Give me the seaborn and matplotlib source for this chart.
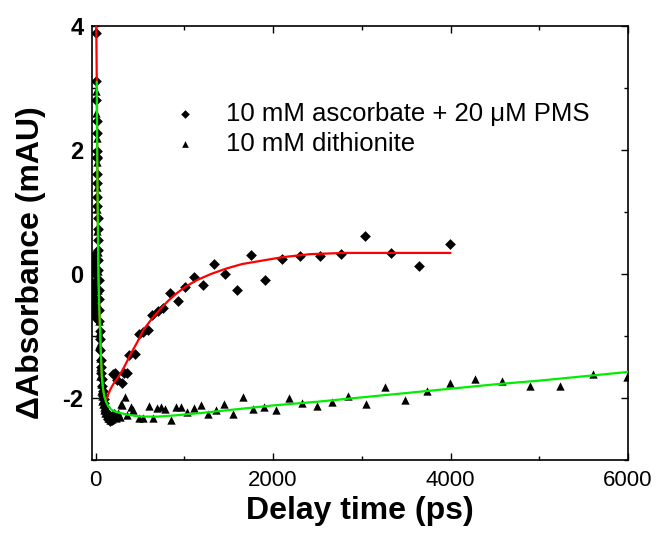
import numpy as np
import pandas as pd
import matplotlib
matplotlib.use("Agg")
import matplotlib.pyplot as plt
from matplotlib.ticker import MultipleLocator
import seaborn as sns

# ---------------- data ----------------
asc_t_pre = [-38, -34, -30, -26, -22, -18, -14, -10, -6, -2]
asc_y_pre = [0.2, -0.3, 0.1, -0.5, 0.3, -0.2, -0.6, 0.0, -0.4, -0.7]
asc_t_early = [5, 8, 10, 12, 13, 14, 15, 16, 17, 18, 19, 20, 22, 24, 26, 28, 30, 32, 34, 36,
               38, 41, 44, 47, 50, 54, 58, 62, 66, 70, 75, 80, 86, 92, 100, 108, 116, 125, 135, 145,
               155, 165, 175, 190, 205]
asc_y_early = [3.89, 3.11, 2.81, 2.47, 2.28, 1.98, 1.89, 1.87, 1.62, 1.46, 1.25, 1.09, 0.91, 0.72, 0.55, 0.38, 0.22, 0.06, -0.10, -0.25,
               -0.40, -0.58, -0.75, -0.92, -1.05, -1.22, -1.38, -1.50, -1.60, -1.70, -1.80, -1.88, -1.96, -2.02, -2.08, -2.15, -2.22, -2.26, -2.30, -2.34,
               -2.28, -2.37, -2.31, -2.35, -2.25]
asc_t_late = [202, 221, 240, 303, 315, 352, 375, 440, 484, 540, 589, 641, 701, 765, 844, 926, 1013, 1110, 1215, 1332,
              1459, 1595, 1755, 1915, 2105, 2304, 2526, 2769, 3036, 3329, 3648, 3997]
asc_y_late = [-1.62, -1.60, -1.71, -1.76, -1.60, -1.59, -1.31, -1.29, -0.97, -0.93, -0.91, -0.66, -0.60, -0.55, -0.31, -0.43, -0.21, -0.05, -0.18, 0.16,
              0.00, -0.26, 0.30, -0.09, 0.25, 0.29, 0.29, 0.33, 0.61, 0.34, 0.13, 0.49]

dit_t_pre = [-38, -34, -30, -26, -22, -18, -14, -10, -6, -2]
dit_y_pre = [-0.1, 0.2, -0.4, 0.1, -0.3, 0.3, -0.5, -0.1, 0.2, -0.6]
dit_t_early = [8, 10, 12, 14, 16, 18, 20, 23, 26, 29, 32, 35, 38, 42, 46, 50, 55, 60, 65, 70,
               76, 82, 90, 98, 106, 115, 125, 135, 145, 160, 175, 190, 210, 230, 250, 270]
dit_y_early = [2.95, 2.60, 2.20, 1.80, 1.40, 1.05, 0.70, 0.35, 0.05, -0.25, -0.50, -0.75, -0.95, -1.15, -1.35, -1.50, -1.65, -1.78, -1.88, -1.97,
               -2.05, -2.10, -2.15, -2.20, -2.24, -2.18, -2.28, -2.33, -2.25, -2.36, -2.30, -2.34, -2.27, -2.32, -2.24, -2.30]
dit_t_late = [288, 296, 333, 352, 405, 427, 484, 540, 607, 652, 690, 735, 784, 851, 908, 964, 1035, 1110, 1186, 1272,
              1358, 1450, 1553, 1660, 1771, 1900, 2034, 2177, 2325, 2492, 2661, 2848, 3047, 3261, 3486, 3731, 3997, 4275, 4575, 4894,
              5232, 5600, 5994]
dit_y_late = [-2.10, -2.11, -1.99, -2.27, -2.14, -2.19, -2.33, -2.33, -2.13, -2.33, -2.16, -2.15, -2.18, -2.35, -2.14, -2.14, -2.23, -2.16, -2.11, -2.26,
              -2.19, -2.09, -2.26, -1.99, -2.18, -2.15, -2.19, -2.00, -2.08, -2.13, -2.06, -1.97, -2.09, -1.83, -2.03, -1.88, -1.75, -1.69, -1.72, -1.80,
              -1.81, -1.62, -1.66]

fit_red_t = [8, 10, 12, 14, 16, 18, 20, 24, 28, 33, 40, 46, 52, 60, 71, 85, 100, 112, 119, 140,
             164, 190, 220, 277, 330, 400, 470, 540, 630, 727, 820, 915, 1020, 1140, 1300, 1478, 1650, 1853, 2100, 2417,
             2800, 3200, 3600, 4000]
fit_red_y = [4.0, 3.7, 3.4, 3.1, 2.6, 2.1, 1.7, 1.1, 0.5, -0.04, -0.45, -0.72, -0.95, -1.28, -1.66, -1.86, -1.97, -2.02, -2.03, -1.95,
             -1.87, -1.80, -1.73, -1.62, -1.48, -1.28, -1.10, -0.90, -0.73, -0.57, -0.43, -0.31, -0.20, -0.10, 0.00, 0.09, 0.16, 0.21, 0.27, 0.32,
             0.34, 0.34, 0.34, 0.34]
fit_green_t = [14, 16, 18, 20, 24, 28, 33, 40, 46, 52, 60, 71, 85, 100, 120, 145, 180, 221, 300, 371,
               450, 559, 700, 900, 1200, 1600, 2000, 2500, 3000, 3500, 4000, 4500, 5000, 5500, 6000]
fit_green_y = [3.10, 2.6, 2.1, 1.7, 1.1, 0.5, -0.04, -0.45, -0.72, -0.95, -1.28, -1.66, -1.86, -1.98, -2.07, -2.14, -2.19, -2.22, -2.25, -2.27,
               -2.29, -2.30, -2.30, -2.28, -2.24, -2.18, -2.12, -2.06, -1.99, -1.92, -1.85, -1.78, -1.72, -1.65, -1.58]

labels = ["10 mM ascorbate + 20 \u03bcM PMS", "10 mM dithionite"]
xticks = [0, 2000, 4000, 6000]
yticks = [-2, 0, 2, 4]

# ---------------- figure ----------------
sns.set_style("ticks")
plt.rcParams["font.family"] = ["Liberation Sans", "DejaVu Sans"]
plt.rcParams["axes.unicode_minus"] = False
plt.rcParams["text.color"] = "black"
plt.rcParams["axes.labelcolor"] = "black"
plt.rcParams["xtick.color"] = "black"
plt.rcParams["ytick.color"] = "black"

fig = plt.figure(figsize=(6.59, 5.42), dpi=100)
ax = fig.add_axes([92 / 659, 1 - 460 / 542, 536 / 659, 434 / 542])

asc = pd.DataFrame({"t": asc_t_pre + asc_t_early + asc_t_late,
                    "y": asc_y_pre + asc_y_early + asc_y_late})
dit = pd.DataFrame({"t": dit_t_pre + dit_t_early + dit_t_late,
                    "y": dit_y_pre + dit_y_early + dit_y_late})
fr = pd.DataFrame({"t": fit_red_t, "y": fit_red_y})
fg = pd.DataFrame({"t": fit_green_t, "y": fit_green_y})

sns.scatterplot(data=asc, x="t", y="y", marker="D", s=30, color="black",
                linewidth=0, ax=ax, label=labels[0], zorder=3)
sns.scatterplot(data=dit, x="t", y="y", marker="^", s=36, color="black",
                linewidth=0, ax=ax, label=labels[1], zorder=3)
sns.lineplot(data=fr, x="t", y="y", color="#ff0000", linewidth=1.6, ax=ax,
             sort=False, estimator=None, zorder=4, legend=False)
sns.lineplot(data=fg, x="t", y="y", color="#00ee00", linewidth=1.6, ax=ax,
             sort=False, estimator=None, zorder=5, legend=False)

ax.set_xlim(-40, 6000)
ax.set_ylim(-3, 4)
ax.set_xticks(xticks)
ax.set_yticks(yticks)
ax.xaxis.set_minor_locator(MultipleLocator(1000))
ax.yaxis.set_minor_locator(MultipleLocator(1))
ax.tick_params(which="both", direction="in", top=True, right=True, width=1.0,
               color="black", labelcolor="black")
ax.tick_params(which="major", length=5)
ax.tick_params(which="minor", length=3)
ax.tick_params(axis="x", labelsize=16, pad=7)
ax.tick_params(axis="y", labelsize=17, pad=6)
for lab in ax.get_yticklabels():
    lab.set_fontweight("bold")
for sp in ax.spines.values():
    sp.set_linewidth(1.2)
    sp.set_color("black")

ax.set_xlabel("Delay time (ps)", fontsize=23, fontweight="bold", labelpad=4, color="black")
ax.set_ylabel("\u0394Absorbance (mAU)", fontsize=23, fontweight="bold", color="black")
ax.yaxis.set_label_coords(-0.085, 0.455)

leg = ax.legend(loc="upper left", bbox_to_anchor=(0.149, 0.826), frameon=False,
                fontsize=18.5, handlelength=1.0, handletextpad=1.1, labelspacing=0.25,
                borderpad=0, borderaxespad=0, markerscale=0.8)
for t in leg.get_texts():
    t.set_color("black")

fig.savefig("out.png", dpi=100)
